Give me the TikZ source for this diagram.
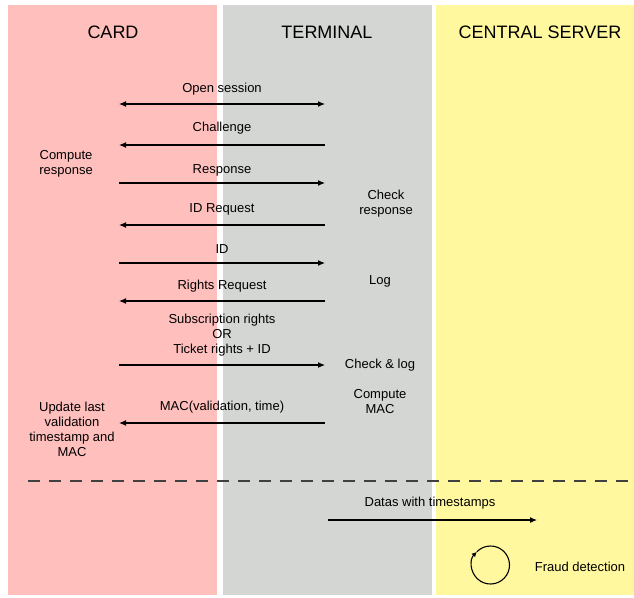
\documentclass[tikz,border=0pt]{standalone}
\usepackage{fontspec}
\setmainfont{Liberation Sans}
\usetikzlibrary{arrows.meta}
\definecolor{cardbg}{RGB}{255,191,189}
\definecolor{termbg}{RGB}{212,214,211}
\definecolor{servbg}{RGB}{255,248,158}
\tikzset{
  lbl/.style={font=\fontsize{13}{15}\selectfont, align=center, inner sep=0pt},
  ttl/.style={font=\fontsize{18}{21}\selectfont, inner sep=0pt},
  msg/.style={line width=1.1pt, -{Latex[length=7pt,width=6pt]}},
  msgboth/.style={line width=1.1pt, {Latex[length=7pt,width=6pt]}-{Latex[length=7pt,width=6pt]}},
}
\begin{document}
\begin{tikzpicture}[x=1pt,y=-1pt]
\useasboundingbox[fill=white] (0,0) rectangle (634,597);
\fill[cardbg] (8,5) rectangle (217,595);
\fill[termbg] (223,5) rectangle (432,595);
\fill[servbg] (436,5) rectangle (634,595);

\node[ttl] (tcard) at (113,32) {CARD};
\node[ttl] (tterm) at (327,32) {TERMINAL};
\node[ttl] (tserv) at (540,32) {CENTRAL SERVER};

% end points of message lines
\foreach \n/\y in {1/104,2/145,3/183,4/225,5/263,6/301,7/365,8/423}{
  \coordinate (L\n) at (119,\y);
  \coordinate (R\n) at (325,\y);
}

\draw[msgboth] (L1) -- (R1);
\node[lbl] (m1) at (222,89) {Open session};
\draw[msg] (R2) -- (L2);
\node[lbl] (m2) at (222,128) {Challenge};
\draw[msg] (L3) -- (R3);
\node[lbl] (m3) at (222,170) {Response};
\draw[msg] (R4) -- (L4);
\node[lbl] (m4) at (222,209) {ID Request};
\draw[msg] (L5) -- (R5);
\node[lbl] (m5) at (222,249) {ID};
\draw[msg] (R6) -- (L6);
\node[lbl] (m6) at (222,286) {Rights Request};
\draw[msg] (L7) -- (R7);
\node[lbl] (m7) at (222,335) {Subscription rights\\OR\\Ticket rights + ID};
\draw[msg] (R8) -- (L8);
\node[lbl] (m8) at (222,407) {MAC(validation, time)};

\node[lbl] (a1) at (66,164) {Compute\\response};
\node[lbl] (a2) at (386,204) {Check\\response};
\node[lbl] (a3) at (380,281) {Log};
\node[lbl] (a4) at (380,365) {Check \& log};
\node[lbl] (a5) at (380,402) {Compute\\MAC};
\node[lbl] (a6) at (72,429) {Update last\\validation\\timestamp and\\MAC};

\coordinate (d1) at (28,481);
\coordinate (d2) at (634,481);
\draw[line width=1.1pt, dash pattern=on 12pt off 9pt, color=black!75] (d1) -- (d2);

\coordinate (s1) at (328,520);
\coordinate (s2) at (537,520);
\draw[msg] (s1) -- (s2);
\node[lbl] (m9) at (430,503) {Datas with timestamps};

\coordinate (cc) at (490.5,565);
\draw[line width=1.1pt, -{Latex[length=5pt,width=5pt]}] ([shift={(-136:19)}]cc) arc[start angle=-136, end angle=224, radius=19];
\node[lbl] (a7) at (580,567) {Fraud detection};
\end{tikzpicture}
\end{document}
